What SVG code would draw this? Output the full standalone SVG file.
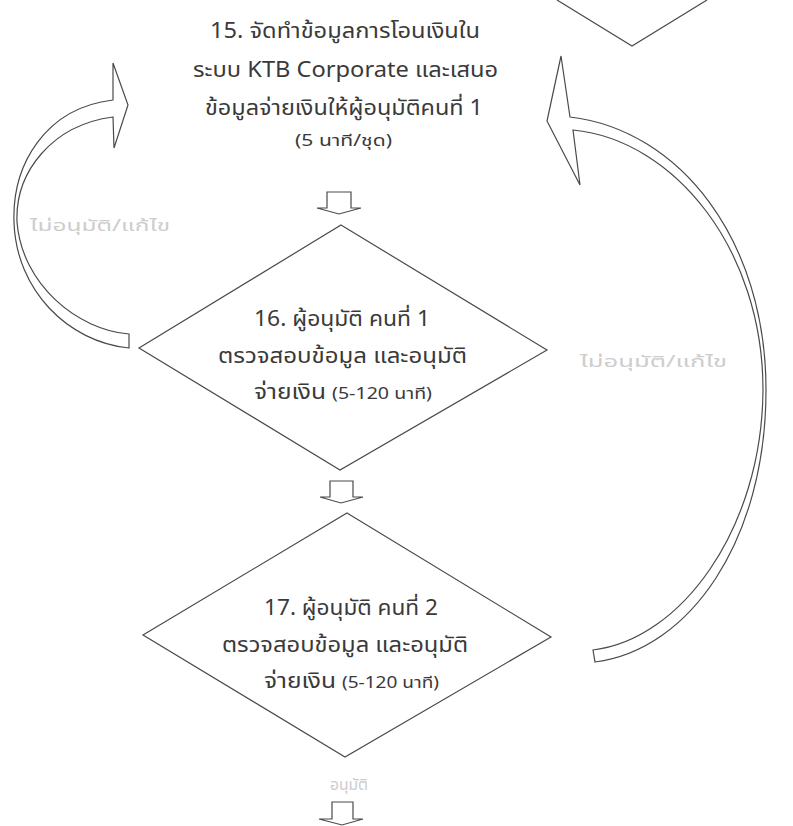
<svg xmlns="http://www.w3.org/2000/svg" width="793" height="826" viewBox="0 0 793 826">
<style>
.shape{fill:#fff;stroke:#4a4a4a;stroke-width:1.2;stroke-linejoin:miter}
.line{fill:none;stroke:#4a4a4a;stroke-width:1.2}
.t{font-family:"Noto Sans Thai","Leelawadee UI",Tahoma,"Noto Sans","DejaVu Sans",sans-serif;fill:#3a3a3a;font-weight:400}
.big{font-size:21px}
.small{font-size:16px}
.faint{font-family:"Noto Sans Thai",Tahoma,"Noto Sans","DejaVu Sans",sans-serif;fill:#cdcdcd;font-size:16px}
</style>
<rect width="793" height="826" fill="#fff"/>
<g id="node-prev">
<polyline class="line" points="557,0 632,46 707,0"/>
</g>
<g id="node-15">
<text class="t big" x="210" y="38" textLength="270" lengthAdjust="spacingAndGlyphs">15. จัดทำข้อมูลการโอนเงินใน</text>
<text class="t big" x="193" y="77" textLength="305" lengthAdjust="spacingAndGlyphs">ระบบ KTB Corporate และเสนอ</text>
<text class="t big" x="205" y="115" textLength="278" lengthAdjust="spacingAndGlyphs">ข้อมูลจ่ายเงินให้ผู้อนุมัติคนที่ 1</text>
<text class="t small" x="295" y="146" textLength="97" lengthAdjust="spacingAndGlyphs">(5 นาที/ชุด)</text>
</g>
<g id="node-16">
<polygon class="shape" points="341,225 547,350 340,470 139,348"/>
<text class="t big" x="254" y="326" textLength="176" lengthAdjust="spacingAndGlyphs">16. ผู้อนุมัติ คนที่ 1</text>
<text class="t big" x="218" y="363" textLength="249" lengthAdjust="spacingAndGlyphs">ตรวจสอบข้อมูล และอนุมัติ</text>
<text class="t big" x="254" y="399" textLength="72" lengthAdjust="spacingAndGlyphs">จ่ายเงิน</text>
<text class="t small" x="332" y="399" textLength="100" lengthAdjust="spacingAndGlyphs">(5-120 นาที)</text>
</g>
<g id="node-17">
<polygon class="shape" points="347,513 551,637 345,757 143,635"/>
<text class="t big" x="264" y="615" textLength="174" lengthAdjust="spacingAndGlyphs">17. ผู้อนุมัติ คนที่ 2</text>
<text class="t big" x="222" y="652" textLength="246" lengthAdjust="spacingAndGlyphs">ตรวจสอบข้อมูล และอนุมัติ</text>
<text class="t big" x="264" y="688" textLength="72" lengthAdjust="spacingAndGlyphs">จ่ายเงิน</text>
<text class="t small" x="342" y="688" textLength="97" lengthAdjust="spacingAndGlyphs">(5-120 นาที)</text>
</g>
<g id="connectors">
<path class="shape" d="M327,192 H351 V208 H361 L339,214 L317,208 H327 Z"/>
<path class="shape" d="M330,481 H353 V497 H363 L341,503 L320,497 H330 Z"/>
<path class="shape" d="M332,802 H353 V819 H363 L342,825 L319,819 H332 Z"/>
<path class="shape" d="M113,100 C45,108 12,165 14,222 C16,290 68,342 129,348 L129,334 C78,330 22,285 17,222 C15,172 52,125 113,117 L114,148 L128,105 L113,63 Z"/>
<path class="shape" d="M570,117 C680,130 766,240 766,390 C766,540 690,650 595,662 L593,650 C680,640 762,530 763,390 C763,250 675,140 573,130 L580,185 L547,121 L561,56 Z"/>
<text class="faint" x="30" y="231" textLength="140" lengthAdjust="spacingAndGlyphs">ไม่อนุมัติ/แก้ไข</text>
<text class="faint" x="580" y="367" textLength="147" lengthAdjust="spacingAndGlyphs">ไม่อนุมัติ/แก้ไข</text>
<text class="faint" x="330" y="790" textLength="38" lengthAdjust="spacingAndGlyphs">อนุมัติ</text>
</g>
</svg>
